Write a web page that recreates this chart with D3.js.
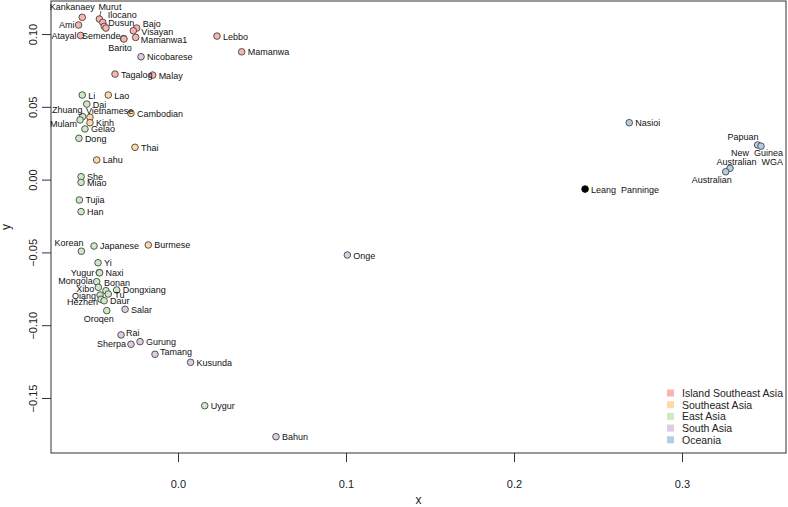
<!DOCTYPE html>
<html>
<head>
<meta charset="utf-8">
<script src="https://cdn.jsdelivr.net/npm/d3@7"></script>
<style>
  body { margin: 0; background: #fff; }
  svg text { font-family: "Liberation Sans", Arial, Helvetica, sans-serif; white-space: pre; }
</style>
</head>
<body>
<div id="chart"></div>
<script>
// population names, coordinates and region of each sample
const names = ["Kankanaey", "Murut", "Ilocano", "Dusun", "", "Ami", "Atayal", "Semende", "Barito",
  "Bajo", "Visayan", "Mamanwa1", "Lebbo", "Mamanwa", "Nicobarese", "Tagalog", "Malay",
  "Li", "Lao", "Dai", "Zhuang", "Mulam", "Vietnamese", "Kinh", "Gelao", "Cambodian", "Dong",
  "Thai", "Lahu", "She", "Miao", "Tujia", "Han", "Korean", "Japanese", "Burmese", "Yi",
  "Yugur", "Naxi", "Mongola", "Xibo", "Bonan", "Dongxiang", "Tu", "Qiang", "Hezhen", "Daur",
  "Salar", "Oroqen", "Rai", "Sherpa", "Gurung", "Tamang", "Kusunda", "Uygur", "Bahun", "Onge",
  "Nasioi", "Papuan", "New  Guinea", "Australian  WGA", "Australian", "Leang  Panninge"];

const xVals = [-0.0570, -0.0468, -0.0448, -0.0439, -0.0429, -0.0592, -0.0580, -0.0324, -0.0322,
  -0.0246, -0.0266, -0.0252, 0.0232, 0.0379, -0.0220, -0.0375, -0.0151,
  -0.0570, -0.0415, -0.0543, -0.0568, -0.0583, -0.0524, -0.0524, -0.0554, -0.0280, -0.0590,
  -0.0256, -0.0484, -0.0577, -0.0577, -0.0587, -0.0577, -0.0575, -0.0500, -0.0177, -0.0476,
  -0.0469, -0.0467, -0.0484, -0.0474, -0.0429, -0.0365, -0.0415, -0.0464, -0.0458, -0.0440,
  -0.0315, -0.0424, -0.0339, -0.0280, -0.0226, -0.0137, 0.0075, 0.0159, 0.0583, 0.1008,
  0.2686, 0.3450, 0.3470, 0.3286, 0.3260, 0.2423];

const yVals = [0.1115, 0.1103, 0.1080, 0.1053, 0.1041, 0.1062, 0.0990, 0.0969, 0.0966,
  0.1041, 0.1023, 0.0977, 0.0986, 0.0878, 0.0844, 0.0725, 0.0718,
  0.0581, 0.0581, 0.0519, 0.0433, 0.0410, 0.0428, 0.0391, 0.0348, 0.0455, 0.0284,
  0.0222, 0.0135, 0.0020, -0.0019, -0.0140, -0.0220, -0.0492, -0.0456, -0.0449, -0.0571,
  -0.0639, -0.0640, -0.0701, -0.0740, -0.0763, -0.0758, -0.0786, -0.0793, -0.0822, -0.0832,
  -0.0891, -0.0900, -0.1067, -0.1131, -0.1113, -0.1200, -0.1255, -0.1553, -0.1766, -0.0518,
  0.0391, 0.0238, 0.0230, 0.0078, 0.0054, -0.0065];

const groups = ["ISEA", "ISEA", "ISEA", "ISEA", "ISEA", "ISEA", "ISEA", "ISEA", "ISEA",
  "ISEA", "ISEA", "ISEA", "ISEA", "ISEA", "SA", "ISEA", "ISEA",
  "EA", "SEA", "EA", "EA", "EA", "SEA", "SEA", "EA", "SEA", "EA",
  "SEA", "SEA", "EA", "EA", "EA", "EA", "EA", "EA", "SEA", "EA",
  "EA", "EA", "EA", "EA", "EA", "EA", "EA", "EA", "EA", "EA",
  "SA", "EA", "SA", "SA", "SA", "SA", "SA", "EA", "SA", "SA",
  "OC", "OC", "OC", "OC", "OC", "ancient"];

const legendKeys = ["ISEA", "SEA", "EA", "SA", "OC"];
const legendLabels = ["Island Southeast Asia", "Southeast Asia", "East Asia", "South Asia", "Oceania"];

const xTicks = [0, 0.1, 0.2, 0.3];
const yTicks = [-0.15, -0.10, -0.05, 0.00, 0.05, 0.10];

// label placement (default: right of the point)
const labelNudge = {
  "Kankanaey": ["middle", -10, -7], "Murut": ["start", -1, -9], "Ilocano": ["start", 5, -4],
  "Dusun": ["start", 4, 0], "Ami": ["end", -4, 3], "Atayal": ["end", -4, 3],
  "Semende": ["end", -3, 0], "Barito": ["middle", -4, 12], "Bajo": ["start", 6, -1],
  "Visayan": ["start", 8, 4], "Mamanwa1": ["start", 5, 6],
  "Zhuang": ["end", 0, -4], "Vietnamese": ["start", -4, -3], "Mulam": ["end", -3, 7],
  "Korean": ["end", 2, -5], "Yugur": ["end", -5, 3], "Mongola": ["end", -4, 2],
  "Xibo": ["end", -4, 5], "Bonan": ["start", -2, -5], "Qiang": ["end", -4, 4],
  "Hezhen": ["end", -3, 6], "Oroqen": ["middle", -8, 11], "Sherpa": ["end", -5, 3],
  "Rai": ["start", 5, 1], "Tamang": ["start", 5, 1],
  "Papuan": ["end", 1, -5], "New  Guinea": ["end", 22, 10],
  "Australian  WGA": ["end", 53, -3], "Australian": ["end", 6, 11]
};

const colors = { ISEA: "#FBB4AE", SEA: "#FED9A6", EA: "#CCEBC5", SA: "#DECBE4", OC: "#B3CDE3", ancient: "#000000" };

const W = 788, H = 507;
const plotL = 51, plotR = 786, plotT = 1, plotB = 453;

const xScale = d3.scaleLinear().domain([-0.0756, 0.3619]).range([plotL, plotR]);
const yScale = d3.scaleLinear().domain([-0.1878, 0.1227]).range([plotB, plotT]);

const svg = d3.select("#chart").append("svg")
  .attr("width", W)
  .attr("height", H);

const pts = names.map((n, i) => ({ name: n, x: xVals[i], y: yVals[i], g: groups[i] }));

// axes
const xAxis = d3.axisBottom(xScale).tickValues(xTicks).tickFormat(d3.format(".1f"))
  .tickSizeOuter(0).tickSize(9).tickPadding(18);
const yAxis = d3.axisLeft(yScale).tickValues(yTicks)
  .tickFormat(d => d3.format(".2f")(d).replace("-", "\u2212"))
  .tickSizeOuter(0).tickSize(9);

const gx = svg.append("g").attr("transform", `translate(0, ${plotB})`).call(xAxis);
gx.select(".domain").remove();
gx.selectAll("text").attr("font-size", 11).attr("fill", "#222");
gx.selectAll("line").attr("stroke", "#333");

const gy = svg.append("g").attr("transform", `translate(${plotL}, 0)`).call(yAxis);
gy.select(".domain").remove();
gy.selectAll("line").attr("stroke", "#333");
gy.selectAll("text")
  .attr("font-size", 11).attr("fill", "#222")
  .attr("text-anchor", "middle")
  .attr("transform", "rotate(-90)")
  .attr("x", 0).attr("y", -14).attr("dy", 0);

// frame
svg.append("rect")
  .attr("x", plotL).attr("y", plotT)
  .attr("width", plotR - plotL).attr("height", plotB - plotT)
  .attr("fill", "none").attr("stroke", "#333").attr("stroke-width", 1);

svg.append("text").attr("x", (plotL + plotR) / 2).attr("y", 504)
  .attr("text-anchor", "middle").attr("font-size", 12).attr("fill", "#222").text("x");
svg.append("text").attr("transform", `translate(10, ${(plotT + plotB) / 2}) rotate(-90)`)
  .attr("text-anchor", "middle").attr("font-size", 12).attr("fill", "#222").text("y");

// points
svg.append("g").selectAll("circle")
  .data(pts)
  .enter()
  .append("circle")
  .attr("cx", d => xScale(d.x))
  .attr("cy", d => yScale(d.y))
  .attr("r", 3.3)
  .attr("fill", d => colors[d.g])
  .attr("stroke", d => d.g === "ancient" ? "#000" : "#444")
  .attr("stroke-width", 0.9);

// short leader line for the Murut label
const murut = pts.find(d => d.name === "Murut");
svg.append("line")
  .attr("x1", xScale(murut.x) + 0.5).attr("y1", yScale(murut.y) - 3)
  .attr("x2", xScale(murut.x) + 1.5).attr("y2", yScale(murut.y) - 8)
  .attr("stroke", "#333").attr("stroke-width", 0.8);

// point labels
svg.append("g").selectAll("text")
  .data(pts.filter(d => d.name !== ""))
  .enter()
  .append("text")
  .attr("font-size", 9)
  .attr("fill", "#111")
  .attr("text-anchor", d => labelNudge[d.name] ? labelNudge[d.name][0] : "start")
  .attr("x", d => xScale(d.x) + (labelNudge[d.name] ? labelNudge[d.name][1] : 6))
  .attr("y", d => yScale(d.y) + (labelNudge[d.name] ? labelNudge[d.name][2] : 3.5))
  .text(d => d.name);

// legend
const legend = svg.append("g").attr("transform", "translate(667, 393)");
legend.selectAll("rect")
  .data(legendKeys)
  .enter()
  .append("rect")
  .attr("x", 0)
  .attr("y", (d, i) => i * 11.7 - 3.5)
  .attr("width", 7).attr("height", 7)
  .attr("fill", d => colors[d]);
legend.selectAll("text")
  .data(legendLabels)
  .enter()
  .append("text")
  .attr("x", 15)
  .attr("y", (d, i) => i * 11.7 + 4)
  .attr("font-size", 10.5)
  .attr("fill", "#222")
  .text(d => d);
</script>
</body>
</html>
